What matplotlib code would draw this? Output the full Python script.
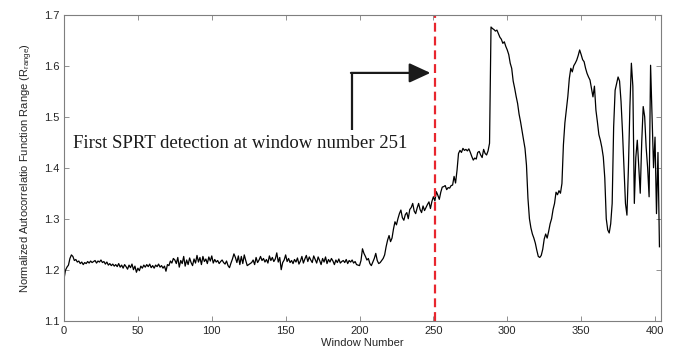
import numpy as np
import matplotlib
matplotlib.use("Agg")
import matplotlib.pyplot as plt

plt.rcParams['font.family'] = ['Liberation Sans', 'DejaVu Sans']
plt.rcParams['mathtext.fontset'] = 'custom'
plt.rcParams['mathtext.rm'] = 'Liberation Sans'

# R_range per window
r_range = [
    1.182, 1.199, 1.205, 1.209, 1.222, 1.229, 1.226, 1.218, 1.220, 1.215,
    1.217, 1.212, 1.215, 1.210, 1.214, 1.212, 1.216, 1.213, 1.217, 1.214,
    1.216, 1.218, 1.213, 1.217, 1.215, 1.219, 1.214, 1.216, 1.211, 1.215,
    1.209, 1.212, 1.208, 1.211, 1.207, 1.210, 1.206, 1.212, 1.205, 1.209,
    1.203, 1.210, 1.206, 1.201, 1.209, 1.204, 1.211, 1.200, 1.207, 1.195,
    1.203, 1.198, 1.207, 1.203, 1.209, 1.205, 1.210, 1.206, 1.211, 1.204,
    1.208, 1.203, 1.209, 1.206, 1.211, 1.205, 1.208, 1.203, 1.207, 1.197,
    1.210, 1.208, 1.217, 1.213, 1.222, 1.219, 1.212, 1.224, 1.205, 1.218,
    1.212, 1.226, 1.207, 1.219, 1.210, 1.223, 1.214, 1.208, 1.221, 1.213,
    1.228, 1.215, 1.224, 1.210, 1.226, 1.216, 1.221, 1.212, 1.225, 1.217,
    1.227, 1.213, 1.220, 1.215, 1.218, 1.212, 1.216, 1.219, 1.214, 1.211,
    1.217, 1.208, 1.204, 1.213, 1.221, 1.231, 1.224, 1.214, 1.227, 1.210,
    1.226, 1.212, 1.229, 1.218, 1.208, 1.210, 1.212, 1.214, 1.219, 1.210,
    1.224, 1.214, 1.219, 1.226, 1.218, 1.222, 1.215, 1.220, 1.213, 1.227,
    1.218, 1.224, 1.216, 1.221, 1.233, 1.215, 1.224, 1.200, 1.214, 1.219,
    1.229, 1.216, 1.222, 1.214, 1.218, 1.212, 1.220, 1.215, 1.223, 1.211,
    1.217, 1.226, 1.213, 1.221, 1.228, 1.216, 1.225, 1.219, 1.214, 1.227,
    1.220, 1.213, 1.225, 1.218, 1.210, 1.222, 1.215, 1.225, 1.212, 1.220,
    1.215, 1.222, 1.217, 1.210, 1.219, 1.214, 1.221, 1.213, 1.216, 1.218,
    1.214, 1.220, 1.212, 1.218, 1.215, 1.219, 1.213, 1.216, 1.210, 1.209,
    1.208, 1.218, 1.241, 1.232, 1.226, 1.219, 1.222, 1.212, 1.208, 1.215,
    1.222, 1.232, 1.218, 1.212, 1.214, 1.218, 1.222, 1.229, 1.245, 1.258,
    1.267, 1.255, 1.262, 1.280, 1.294, 1.288, 1.300, 1.310, 1.317, 1.302,
    1.297, 1.308, 1.312, 1.300, 1.318, 1.322, 1.330, 1.315, 1.310, 1.321,
    1.330, 1.318, 1.312, 1.325, 1.316, 1.322, 1.328, 1.333, 1.320, 1.334,
    1.343, 1.335, 1.353, 1.346, 1.338, 1.352, 1.362, 1.363, 1.365, 1.357,
    1.361, 1.360, 1.365, 1.366, 1.383, 1.370, 1.395, 1.428, 1.434, 1.430,
    1.438, 1.434, 1.436, 1.433, 1.437, 1.430, 1.422, 1.415, 1.419, 1.417,
    1.430, 1.432, 1.425, 1.420, 1.436, 1.428, 1.425, 1.433, 1.448, 1.676,
    1.673, 1.671, 1.668, 1.670, 1.663, 1.656, 1.652, 1.644, 1.647, 1.638,
    1.631, 1.622, 1.605, 1.595, 1.570, 1.556, 1.540, 1.526, 1.505, 1.490,
    1.472, 1.455, 1.438, 1.405, 1.340, 1.300, 1.282, 1.270, 1.262, 1.252,
    1.238, 1.226, 1.224, 1.228, 1.240, 1.260, 1.270, 1.262, 1.275, 1.290,
    1.300, 1.318, 1.330, 1.352, 1.347, 1.355, 1.350, 1.369, 1.445, 1.488,
    1.515, 1.540, 1.575, 1.595, 1.588, 1.600, 1.605, 1.611, 1.620, 1.631,
    1.622, 1.612, 1.608, 1.595, 1.585, 1.578, 1.572, 1.555, 1.539, 1.560,
    1.513, 1.490, 1.465, 1.454, 1.440, 1.421, 1.380, 1.300, 1.278, 1.272,
    1.290, 1.330, 1.480, 1.552, 1.565, 1.578, 1.570, 1.530, 1.470, 1.402,
    1.330, 1.307, 1.400, 1.520, 1.605, 1.560, 1.330, 1.420, 1.454, 1.400,
    1.350, 1.450, 1.520, 1.500, 1.440, 1.400, 1.343, 1.601, 1.500, 1.400,
    1.460, 1.310, 1.430, 1.245,
]
windows = np.arange(len(r_range))

detection_window = 251
label_text = "First SPRT detection at window number 251"

fig = plt.figure(figsize=(6.76, 3.52), dpi=100)
ax = fig.add_axes([0.0947, 0.089, 0.883, 0.869])

ax.plot(windows, r_range, color='black', lw=0.9)
ax.axvline(detection_window, color='#e8262e', lw=1.6, dashes=(4, 2.2))

# bent arrow pointing at the detection line
ax.plot([194.7, 194.7], [1.474, 1.586], color='#1a1a1a', lw=1.6,
        solid_capstyle='butt')
ax.annotate('', xy=(248, 1.586), xytext=(194.2, 1.586),
            arrowprops=dict(arrowstyle='-|>,head_length=1.3,head_width=0.6',
                            color='#1a1a1a', lw=1.6, shrinkA=0, shrinkB=0))
ax.text(5.9, 1.448, label_text, family='Liberation Serif', fontsize=13.5,
        va='center', ha='left', color='#1a1a1a')

ax.set_xlim(0, 404)
ax.set_ylim(1.1, 1.7)
ax.set_xticks(np.arange(0, 401, 50))
ax.set_yticks(np.arange(1.1, 1.71, 0.1))
ax.set_yticklabels(['1.1', '1.2', '1.3', '1.4', '1.5', '1.6', '1.7'])
ax.tick_params(direction='in', top=True, right=True, length=3.5, width=0.6,
               labelsize=8, colors='#7f7f7f', labelcolor='#262626')
for s in ax.spines.values():
    s.set_color('#7f7f7f')
    s.set_linewidth(0.8)

ax.set_xlabel('Window Number', fontsize=8, color='#262626', labelpad=2)
ax.set_ylabel(r'Normalized Autocorrelatio Function Range (R$_{\mathrm{range}}$)',
              fontsize=8, color='#262626', labelpad=6)

fig.savefig('out.png', dpi=100)
